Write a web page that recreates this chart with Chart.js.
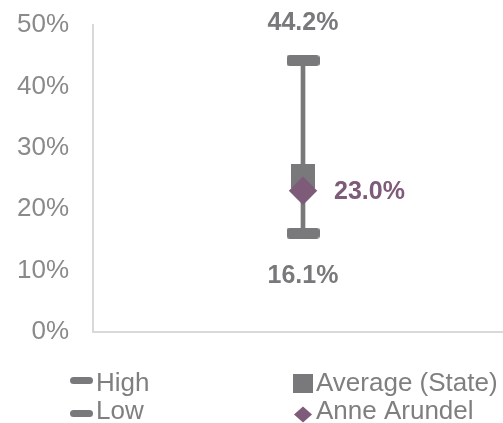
<!DOCTYPE html>
<html>
<head>
<meta charset="utf-8">
<script src="https://cdn.jsdelivr.net/npm/chart.js@4.4.0/dist/chart.umd.min.js"></script>
<style>
html, body { margin: 0; padding: 0; background: #fff; overflow: hidden; }
#wrap { position: relative; width: 513px; height: 423px; }
</style>
</head>
<body>
<div id="wrap"><canvas id="myChart"></canvas></div>
<script>
var categories = ['Anne Arundel'];
var high_values = [44.2];
var low_values = [16.1];
var state_average = [25.4];
var county_values = [23.0];
var y_min = 0, y_max = 50, y_step = 10;

var gray = '#79797c';
var purple = '#7d5b79';
var font_name = '"Liberation Sans", Arial, sans-serif';

// flat rounded cap used as point image for high / low
function makeCap(color) {
    var c = document.createElement('canvas');
    c.width = 33;
    c.height = 11;
    var g = c.getContext('2d');
    g.fillStyle = color;
    g.beginPath();
    g.roundRect(0, 0, 33, 11, 3);
    g.fill();
    return c;
}
var cap = makeCap(gray);

var valueLabels = {
    id: 'valueLabels',
    afterDatasetsDraw(chart) {
        var ctx = chart.ctx;
        ctx.save();
        ctx.font = 'bold 25px ' + font_name;
        ctx.textBaseline = 'middle';
        var hi = chart.getDatasetMeta(1).data[0];
        var lo = chart.getDatasetMeta(2).data[0];
        var cnty = chart.getDatasetMeta(4).data[0];
        ctx.fillStyle = gray;
        ctx.textAlign = 'center';
        ctx.fillText(high_values[0].toFixed(1) + '%', hi.x, hi.y - 38);
        ctx.fillText(low_values[0].toFixed(1) + '%', lo.x, lo.y + 43);
        ctx.fillStyle = purple;
        ctx.textAlign = 'left';
        ctx.fillText(county_values[0].toFixed(1) + '%', cnty.x + 31, cnty.y + 1);
        ctx.restore();
    },
    afterDraw(chart) {
        // two column legend under the plot
        var ctx = chart.ctx;
        ctx.save();
        ctx.font = '26px ' + font_name;
        ctx.textBaseline = 'alphabetic';
        ctx.textAlign = 'left';
        ctx.fillStyle = gray;
        ctx.beginPath(); ctx.roundRect(70, 377, 23, 7, 3.5); ctx.fill();
        ctx.beginPath(); ctx.roundRect(70, 410, 23, 7, 3.5); ctx.fill();
        ctx.fillRect(293, 374, 20, 19);
        ctx.fillStyle = purple;
        ctx.beginPath();
        ctx.moveTo(294, 414.5); ctx.lineTo(303, 406.5); ctx.lineTo(312, 414.5); ctx.lineTo(303, 422.5);
        ctx.closePath(); ctx.fill();
        ctx.fillStyle = '#7f7f7f';
        ctx.fillText('High', 96, 391);
        ctx.fillText('Low', 96, 419);
        ctx.fillText('Average (State)', 316, 391);
        ctx.fillText('Anne Arundel', 316, 419);
        ctx.restore();
    }
};

var ctx = document.getElementById('myChart').getContext('2d');
var myChart = new Chart(ctx, {
    type: 'bar',
    data: {
        labels: categories,
        datasets: [
        {
            label: 'Range',
            data: categories.map(function (c, i) { return [low_values[i], high_values[i]]; }),
            backgroundColor: gray,
            barThickness: 4,
            order: 3
        },
        {
            type: 'line',
            label: 'High',
            data: high_values,
            showLine: false,
            pointStyle: cap,
            pointRadius: 5,
            order: 2
        },
        {
            type: 'line',
            label: 'Low',
            data: low_values,
            showLine: false,
            pointStyle: cap,
            pointRadius: 5,
            order: 2
        },
        {
            type: 'line',
            label: 'Average (State)',
            data: state_average,
            showLine: false,
            pointStyle: 'rect',
            pointRadius: 17,
            pointBorderWidth: 0,
            pointBackgroundColor: gray,
            order: 1
        },
        {
            type: 'line',
            label: 'Anne Arundel',
            data: county_values,
            showLine: false,
            pointStyle: 'rectRot',
            pointRadius: 14.2,
            pointBorderWidth: 0,
            pointBackgroundColor: purple,
            order: 0
        }]
    },
    options: {
        responsive: true,
        maintainAspectRatio: false,
        animation: false,
        layout: { autoPadding: false, padding: { left: 0, right: 0, top: 25, bottom: 91 } },
        plugins: {
            legend: { display: false },
            tooltip: { enabled: false }
        },
        scales: {
            x: {
                ticks: { display: false },
                grid: { display: false, drawTicks: false },
                border: { color: '#d9d9d9', width: 2 },
                afterFit: function (scale) {
                    scale.height = 0;
                    scale.paddingLeft = 0;
                    scale.paddingRight = 0;
                }
            },
            y: {
                min: y_min,
                max: y_max,
                ticks: {
                    stepSize: y_step,
                    padding: 24,
                    color: '#8a8a8a',
                    font: { family: font_name, size: 26 },
                    callback: function (v) { return v + '%'; }
                },
                grid: { display: false, drawTicks: false },
                border: { color: '#d9d9d9', width: 2 },
                afterFit: function (scale) {
                    scale.width = 93;
                    scale.paddingTop = 0;
                    scale.paddingBottom = 0;
                }
            }
        }
    },
    plugins: [valueLabels]
});
</script>
</body>
</html>
